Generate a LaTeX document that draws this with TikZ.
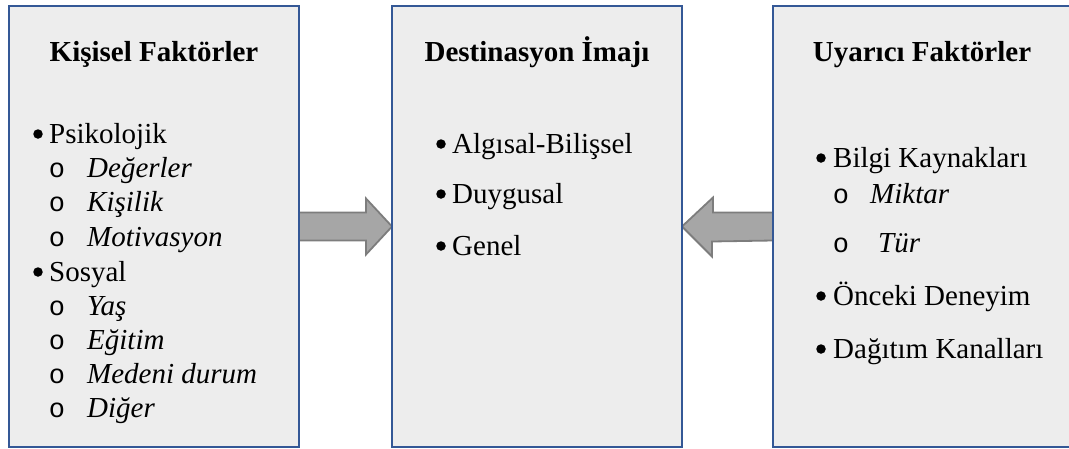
\documentclass[tikz,border=0pt]{standalone}
\usepackage{fontspec}
\setmainfont{Liberation Serif}
\newfontfamily\circfont{Liberation Mono}
\pgfdeclarelayer{background}
\pgfsetlayers{background,main}
\definecolor{boxfill}{RGB}{237,237,237}
\definecolor{boxline}{RGB}{52,88,150}
\definecolor{arrfill}{RGB}{166,166,166}
\definecolor{arrline}{RGB}{125,125,125}
\tikzset{
 panel/.style={draw=boxline, fill=boxfill, line width=2pt, minimum height=441pt, inner sep=0pt, outer sep=0pt},
 blockarrow/.style={fill=arrfill, draw=arrline, line width=1.8pt, line join=miter},
 txt/.style={anchor=base west, inner sep=0pt, font=\fontsize{29}{34}\selectfont},
 ititem/.style={anchor=base west, inner sep=0pt, font=\fontsize{29}{34}\selectfont\itshape},
 ttl/.style={anchor=base, inner sep=0pt, font=\fontsize{29}{34}\selectfont\bfseries},
 dotmark/.style={circle, fill=black, inner sep=0pt, minimum size=9.5pt},
 circmark/.style={anchor=base, inner sep=0pt, font=\fontsize{27}{34}\circfont},
}
\begin{document}
\begin{tikzpicture}[x=1pt,y=-1pt]
\useasboundingbox (0,0) rectangle (1069,448);
% panels
\node[panel, minimum width=290pt] (L) at (154,226.5) {};
\node[panel, minimum width=290pt] (M) at (537,226.5) {};
\node[panel, minimum width=298pt] (R) at (922,226.5) {};
% block arrows
\begin{pgfonlayer}{background}
\draw[blockarrow] ([yshift=14pt]L.east) -- ++(67,0) -- ++(0,-14) -- (M.west) -- ++(-26,28) -- ++(0,-14) -- ([yshift=-14pt]L.east) -- cycle;
\draw[blockarrow] ([yshift=14pt]R.west) -- ++(-60,0) -- ++(0,-15) -- (M.east) -- ++(30,30) -- ++(0,-15) -- ([yshift=-14pt]R.west) -- cycle;
\end{pgfonlayer}
% titles
\node[ttl] (Lt) at (154,61) {Kişisel Faktörler};
\node[ttl] (Mt) at (537,61) {Destinasyon İmajı};
\node[ttl] (Rt) at (922,61) {Uyarıcı Faktörler};
% left items
\node[dotmark] (Lb1) at (38,134) {};
\node[txt] (L1) at (49,143) {Psikolojik};
\node[circmark] (Lc1) at (57,177) {o};
\node[ititem] (L2) at (87,177) {Değerler};
\node[circmark] (Lc2) at (57,211) {o};
\node[ititem] (L3) at (87,211) {Kişilik};
\node[circmark] (Lc3) at (57,246) {o};
\node[ititem] (L4) at (87,246) {Motivasyon};
\node[dotmark] (Lb2) at (38,272) {};
\node[txt] (L5) at (49,281) {Sosyal};
\node[circmark] (Lc4) at (57,315) {o};
\node[ititem] (L6) at (87,315) {Yaş};
\node[circmark] (Lc5) at (57,349) {o};
\node[ititem] (L7) at (87,349) {Eğitim};
\node[circmark] (Lc6) at (57,383) {o};
\node[ititem] (L8) at (87,383) {Medeni durum};
\node[circmark] (Lc7) at (57,417) {o};
\node[ititem] (L9) at (87,417) {Diğer};
% middle items
\node[dotmark] (Mb1) at (441,144) {};
\node[txt] (M1) at (452,153) {Algısal-Bilişsel};
\node[dotmark] (Mb2) at (441,194) {};
\node[txt] (M2) at (452,203) {Duygusal};
\node[dotmark] (Mb3) at (441,246) {};
\node[txt] (M3) at (452,255) {Genel};
% right items
\node[dotmark] (Rb1) at (821,158) {};
\node[txt] (R1) at (833,167) {Bilgi Kaynakları};
\node[circmark] (Rc1) at (841,203) {o};
\node[ititem] (R2) at (870,203) {Miktar};
\node[circmark] (Rc2) at (841,252) {o};
\node[ititem] (R3) at (878,252) {Tür};
\node[dotmark] (Rb2) at (821,296) {};
\node[txt] (R4) at (833,305) {Önceki Deneyim};
\node[dotmark] (Rb3) at (821,349) {};
\node[txt] (R5) at (833,358) {Dağıtım Kanalları};
\end{tikzpicture}
\end{document}
